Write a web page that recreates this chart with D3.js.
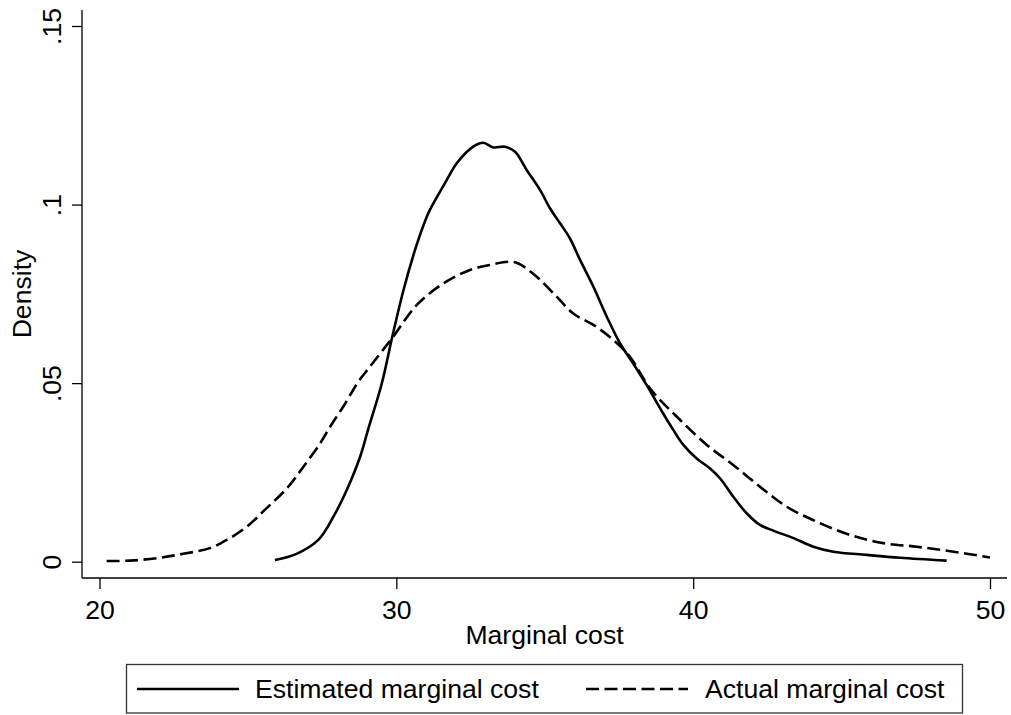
<!DOCTYPE html>
<html>
<head>
<meta charset="utf-8">
<script src="https://cdn.jsdelivr.net/npm/d3@7"></script>
<style>
  html, body { margin: 0; padding: 0; background: #fff; }
  svg { display: block; font-family: "Liberation Sans", Arial, Helvetica, sans-serif; }
</style>
</head>
<body>
<svg id="chart" width="1011" height="715"></svg>
<script>
// ---- data ----
const estX = [25.91, 26.64, 27.37, 27.88, 28.33, 28.78, 29.06, 29.51, 29.85, 30.24, 30.63, 30.95, 31.13, 31.70, 32.03, 32.59, 32.93, 33.27, 33.66, 34.0, 34.39, 34.84, 35.18, 35.52, 35.85, 36.19, 36.64, 37.09, 37.54, 37.98, 38.43, 38.99, 39.33, 39.67, 40.12, 40.57, 40.91, 41.35, 41.81, 42.25, 42.70, 43.38, 44.05, 44.72, 45.85, 46.97, 48.54];
const estY = [0.0005, 0.0022, 0.0061, 0.0126, 0.0201, 0.0294, 0.0373, 0.0499, 0.0625, 0.0760, 0.0873, 0.0950, 0.0985, 0.1069, 0.1115, 0.1162, 0.1173, 0.1160, 0.1162, 0.1148, 0.1097, 0.1041, 0.0989, 0.0947, 0.0905, 0.0845, 0.0770, 0.0686, 0.0611, 0.0555, 0.0495, 0.0415, 0.0369, 0.0327, 0.0289, 0.0261, 0.0233, 0.0182, 0.0135, 0.0103, 0.0087, 0.0066, 0.0042, 0.0028, 0.0019, 0.0011, 0.0003];

const actX = [20.24, 21.03, 21.93, 22.82, 23.72, 24.29, 24.96, 25.63, 26.31, 26.87, 27.43, 27.77, 28.21, 28.72, 29.11, 29.85, 30.69, 31.58, 32.48, 33.16, 33.77, 34.11, 34.73, 35.40, 35.96, 36.64, 37.31, 37.87, 38.55, 39.45, 40.46, 41.35, 42.25, 43.15, 44.16, 45.28, 46.41, 47.53, 48.77, 50.0];
const actY = [0.0002, 0.0003, 0.0010, 0.0022, 0.0038, 0.0061, 0.0098, 0.0150, 0.0205, 0.0266, 0.0331, 0.0378, 0.0434, 0.0504, 0.0546, 0.0625, 0.0719, 0.0779, 0.0817, 0.0831, 0.0840, 0.0835, 0.0798, 0.0742, 0.0695, 0.0663, 0.0621, 0.0574, 0.0485, 0.0406, 0.0327, 0.0271, 0.0210, 0.0154, 0.0112, 0.0075, 0.0052, 0.0042, 0.0028, 0.0012];

const xTicks = [20, 30, 40, 50];
const yTicks = [0, 0.05, 0.1, 0.15];
const yTickLabels = ["0", ".05", ".1", ".15"];
const seriesNames = ["Estimated marginal cost", "Actual marginal cost"];
const xTitle = "Marginal cost";
const yTitle = "Density";

// ---- layout ----
const svg = d3.select("#chart");
const FS = 26.6;
const frame = { left: 82, right: 1007, top: 10, bottom: 578 };

const x = d3.scaleLinear().domain([20, 50]).range([99.5, 990]);
const y = d3.scaleLinear().domain([0, 0.15]).range([561.7, 26]);

// axis lines
svg.append("line").attr("x1", frame.left).attr("x2", frame.left)
  .attr("y1", frame.top).attr("y2", frame.bottom)
  .attr("stroke", "#000").attr("stroke-width", 1.3);
svg.append("line").attr("x1", frame.left).attr("x2", frame.right)
  .attr("y1", frame.bottom).attr("y2", frame.bottom)
  .attr("stroke", "#000").attr("stroke-width", 1.3);

// y axis
const yAxis = d3.axisLeft(y).tickValues(yTicks).tickSize(10)
  .tickFormat((d, i) => yTickLabels[i]);
const gy = svg.append("g").attr("transform", `translate(${frame.left},0)`).call(yAxis);
gy.select(".domain").remove();
gy.selectAll(".tick line").attr("stroke", "#000").attr("stroke-width", 1.3);
gy.selectAll(".tick text")
  .attr("x", 0).attr("dy", 0).attr("y", 0)
  .attr("text-anchor", "middle")
  .attr("transform", "translate(-21,0) rotate(-90)")
  .attr("font-size", FS).attr("fill", "#000")
  .style("font-family", "'Liberation Sans', Arial, sans-serif");

// x axis
const xAxis = d3.axisBottom(x).tickValues(xTicks).tickSize(11).tickFormat(d3.format("d"));
const gx = svg.append("g").attr("transform", `translate(0,${frame.bottom})`).call(xAxis);
gx.select(".domain").remove();
gx.selectAll(".tick line").attr("stroke", "#000").attr("stroke-width", 1.3);
gx.selectAll(".tick text")
  .attr("y", 41).attr("dy", 0)
  .attr("font-size", FS).attr("fill", "#000")
  .style("font-family", "'Liberation Sans', Arial, sans-serif");

// axis titles
svg.append("text").attr("x", (frame.left + frame.right) / 2).attr("y", 644)
  .attr("text-anchor", "middle").attr("font-size", FS).attr("fill", "#000").text(xTitle);
svg.append("text").attr("transform", `translate(31,${(frame.top + frame.bottom) / 2}) rotate(-90)`)
  .attr("text-anchor", "middle").attr("font-size", FS).attr("fill", "#000").text(yTitle);

// curves
const line = d3.line().x(d => x(d[0])).y(d => y(d[1])).curve(d3.curveCatmullRom.alpha(0.5));
const estData = estX.map((v, i) => [v, estY[i]]);
const actData = actX.map((v, i) => [v, actY[i]]);

svg.append("path").datum(actData).attr("d", line)
  .attr("fill", "none").attr("stroke", "#000").attr("stroke-width", 2.6)
  .attr("stroke-dasharray", "13,5.5");
svg.append("path").datum(estData).attr("d", line)
  .attr("fill", "none").attr("stroke", "#000").attr("stroke-width", 2.6)
  .attr("stroke-linejoin", "round");

// legend
const lg = svg.append("g");
lg.append("rect").attr("x", 126.5).attr("y", 664.5).attr("width", 836).attr("height", 48.5)
  .attr("fill", "#fff").attr("stroke", "#333").attr("stroke-width", 1.3);
lg.append("line").attr("x1", 137).attr("x2", 239).attr("y1", 689).attr("y2", 689)
  .attr("stroke", "#000").attr("stroke-width", 2.6);
lg.append("text").attr("x", 255).attr("y", 698).attr("font-size", FS).attr("fill", "#000").text(seriesNames[0]);
lg.append("line").attr("x1", 586).attr("x2", 688).attr("y1", 689).attr("y2", 689)
  .attr("stroke", "#000").attr("stroke-width", 2.6).attr("stroke-dasharray", "13,5.5");
lg.append("text").attr("x", 705).attr("y", 698).attr("font-size", FS).attr("fill", "#000").text(seriesNames[1]);
</script>
</body>
</html>
